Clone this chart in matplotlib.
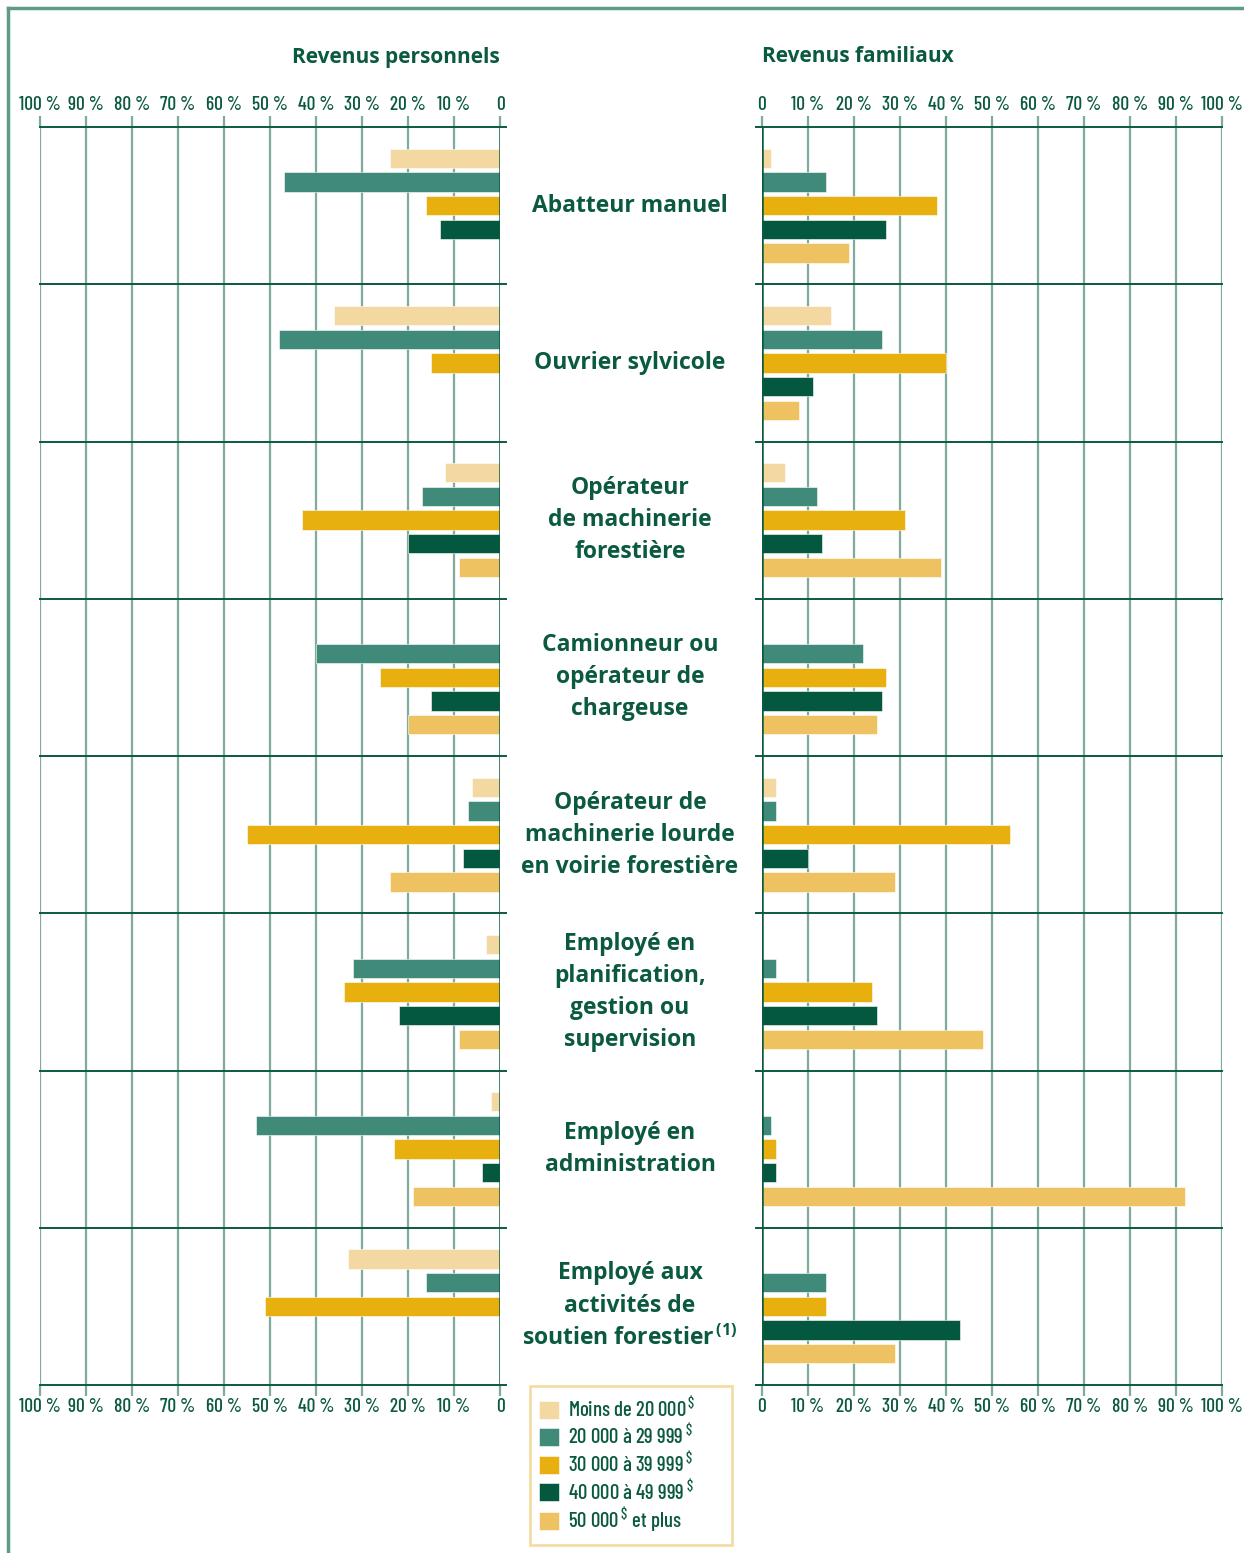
import matplotlib
matplotlib.use("Agg")
import matplotlib.pyplot as plt
from matplotlib.lines import Line2D
import numpy as np

# ---------------- data ----------------
categories = [
    "Abatteur manuel",
    "Ouvrier sylvicole",
    "Opérateur\nde machinerie\nforestière",
    "Camionneur ou\nopérateur de\nchargeuse",
    "Opérateur de\nmachinerie lourde\nen voirie forestière",
    "Employé en\nplanification,\ngestion ou\nsupervision",
    "Employé en\nadministration",
    "Employé aux\nactivités de\nsoutien forestier$^{\\,(1)}$",
]
series_labels = [
    "Moins de 20 000$^{\\,\\$}$",
    "20 000 à 29 999$^{\\,\\$}$",
    "30 000 à 39 999$^{\\,\\$}$",
    "40 000 à 49 999$^{\\,\\$}$",
    "50 000$^{\\,\\$}$ et plus",
]
# Revenus personnels (%)
pers_lt20 = [24, 36, 12, 0, 6, 3, 2, 33]
pers_20_29 = [47, 48, 17, 40, 7, 32, 53, 16]
pers_30_39 = [16, 15, 43, 26, 55, 34, 23, 51]
pers_40_49 = [13, 0, 20, 15, 8, 22, 4, 0]
pers_50p = [0, 0, 9, 20, 24, 9, 19, 0]
# Revenus familiaux (%)
fam_lt20 = [2, 15, 5, 0, 3, 0, 0, 0]
fam_20_29 = [14, 26, 12, 22, 3, 3, 2, 14]
fam_30_39 = [38, 40, 31, 27, 54, 24, 3, 14]
fam_40_49 = [27, 11, 13, 26, 10, 25, 3, 43]
fam_50p = [19, 8, 39, 25, 29, 48, 92, 29]

tick_values = [0, 10, 20, 30, 40, 50, 60, 70, 80, 90, 100]
tick_labels = ["0", "10 %", "20 %", "30 %", "40 %", "50 %", "60 %", "70 %", "80 %", "90 %", "100 %"]

# ---------------- style ----------------
colors = ["#f3d8a1", "#3f8a78", "#e8b00e", "#03583f", "#eec261"]
txt_col = "#0b5a3e"
grid_col = "#7fab9d"
dark_line = "#0b5a3e"
cond_font = ["Barlow Condensed", "DejaVu Sans"]
bold_font = ["Open Sans", "DejaVu Sans"]
plt.rcParams["mathtext.default"] = "regular"

W, H = 1244, 1553
fig = plt.figure(figsize=(W / 100, H / 100), dpi=100)

def fx(px):
    return px / W

def fy(py):
    return 1 - py / H

ax_top, ax_bot = 127, 1385
axL = fig.add_axes([fx(40), fy(ax_bot), fx(460), (ax_bot - ax_top) / H])
axR = fig.add_axes([fx(762), fy(ax_bot), fx(460), (ax_bot - ax_top) / H])

n = len(categories)
centers = np.arange(n) + 0.5
step = 0.1505
bar_h = 0.123

pers = [pers_lt20, pers_20_29, pers_30_39, pers_40_49, pers_50p]
fam = [fam_lt20, fam_20_29, fam_30_39, fam_40_49, fam_50p]

handles = []
for ax, data in ((axL, pers), (axR, fam)):
    for k, vals in enumerate(data):
        b = ax.barh(centers + (k - 2) * step, vals, height=bar_h,
                    color=colors[k], edgecolor="white", linewidth=0.4, zorder=3)
        if ax is axL:
            handles.append(b)
    ax.set_xlim(0, 100)
    ax.set_ylim(n, 0)
    for s in ax.spines.values():
        s.set_visible(False)
    ax.set_yticks([])
    ax.set_xticks(tick_values)
    ax.set_xticklabels(tick_labels)
    ax.tick_params(axis="x", top=True, bottom=True, labeltop=True, labelbottom=True,
                   length=8, width=1.6, color=grid_col, pad=1.5,
                   labelsize=14, labelcolor=txt_col)
    for lab in ax.get_xticklabels():
        lab.set_family(cond_font)
        lab.set_weight("medium")
    for v in tick_values[1:]:
        ax.axvline(v, color=grid_col, lw=1.6, zorder=1)
    ax.axvline(0, color=dark_line, lw=1.8, zorder=4)

axL.invert_xaxis()
# horizontal separators
for yb in range(n + 1):
    axL.axhline(yb, xmin=0, xmax=1 + 6 / 460, color=dark_line, lw=1.4, clip_on=False, zorder=2)
    axR.axhline(yb, xmin=-6 / 460, xmax=1, color=dark_line, lw=1.4, clip_on=False, zorder=2)

# category labels in the middle
for i, cat in enumerate(categories):
    y = ax_top + (ax_bot - ax_top) / n * (i + 0.5)
    fig.text(fx(630), fy(y), cat, ha="center", va="center", fontsize=16.5,
             fontweight="bold", family=bold_font, color=txt_col, linespacing=1.45)

# titles
fig.text(fx(500), fy(57), "Revenus personnels", ha="right", va="center",
         fontsize=15, fontweight="bold", family=bold_font, color=txt_col)
fig.text(fx(762), fy(57), "Revenus familiaux", ha="left", va="center",
         fontsize=15, fontweight="bold", family=bold_font, color=txt_col)

# legend
leg = fig.legend(handles, series_labels, loc="upper left", mode="expand",
                 bbox_to_anchor=(fx(530), fy(1538), fx(202), (1538 - 1386) / H),
                 bbox_transform=fig.transFigure,
                 frameon=True, fancybox=False, borderaxespad=0, borderpad=0.45,
                 handlelength=0.95, handleheight=0.95, handletextpad=0.4,
                 labelspacing=0.1, prop={"family": cond_font, "size": 15, "weight": "medium"})
leg.get_frame().set_edgecolor("#f2d48f")
leg.get_frame().set_linewidth(2)
for t in leg.get_texts():
    t.set_color(txt_col)

# outer frame lines
fig.add_artist(Line2D([fx(8), fx(8)], [0, fy(8)], color="#5e9c88", lw=2.5))
fig.add_artist(Line2D([fx(8), 1], [fy(8), fy(8)], color="#5e9c88", lw=2.5))

fig.savefig("out.png", dpi=100)
